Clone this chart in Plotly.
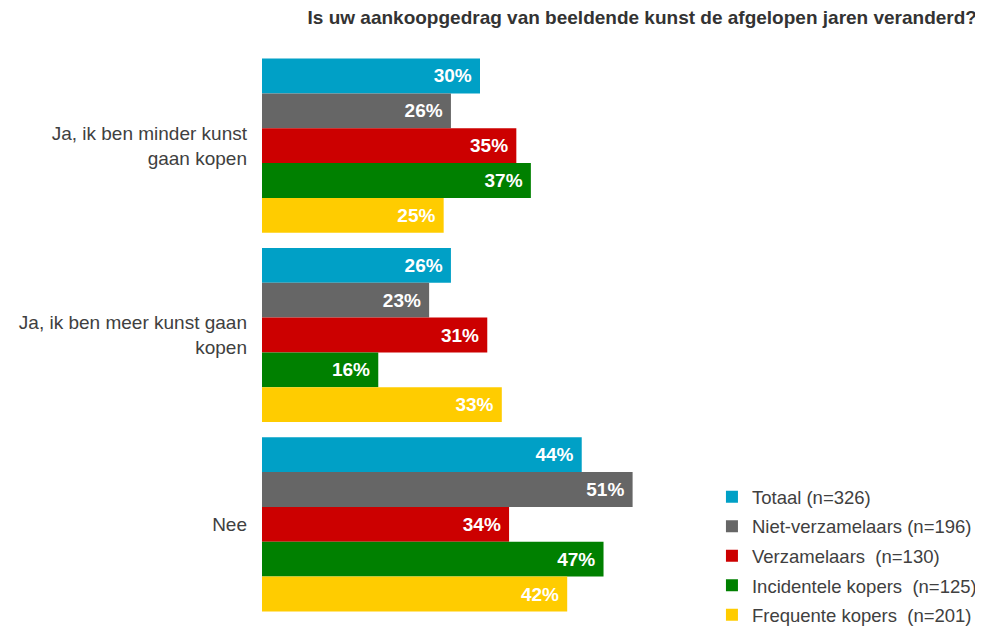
import plotly.graph_objects as go

# Categories and series (share of respondents)
categories = [
    "Ja, ik ben minder kunst<br>gaan kopen",
    "Ja, ik ben meer kunst gaan<br>kopen",
    "Nee",
]
series_names = [
    "Totaal (n=326)",
    "Niet-verzamelaars (n=196)",
    "Verzamelaars  (n=130)",
    "Incidentele kopers  (n=125)",
    "Frequente kopers  (n=201)",
]
totaal = [0.30, 0.26, 0.44]
niet_verzamelaars = [0.26, 0.23, 0.51]
verzamelaars = [0.35, 0.31, 0.34]
incidentele = [0.37, 0.16, 0.47]
frequente = [0.25, 0.33, 0.42]

colors = ["#00A0C6", "#666666", "#CC0000", "#008000", "#FFCC00"]
values = [totaal, niet_verzamelaars, verzamelaars, incidentele, frequente]

fig = go.Figure()
for i, (name, vals) in enumerate(zip(series_names, values)):
    fig.add_trace(go.Bar(
        y=categories,
        x=vals,
        name=name,
        orientation="h",
        marker=dict(color=colors[i], line=dict(width=0)),
        text=[f"{v:.0%}\u00a0" for v in vals],
        textposition="inside",
        insidetextanchor="end",
        textfont=dict(color="white", size=19, family="Liberation Sans, Arial", weight="bold"),
        legendgroup=f"g{i}",
    ))

# page body has an 8px margin, so the figure is a bit smaller than the window
fig.update_layout(
    width=975,
    height=619,
    barmode="group",
    bargap=0.08,
    bargroupgap=0,
    plot_bgcolor="white",
    paper_bgcolor="white",
    font=dict(family="Liberation Sans, Arial", size=19, color="#404040"),
    margin=dict(l=254, r=285, t=43, b=8, autoexpand=False),
    title=dict(
        text="<b>Is uw aankoopgedrag van beeldende kunst de afgelopen jaren veranderd?</b>",
        x=0.9938, xanchor="right", y=0.995, yanchor="top",
        font=dict(size=19, color="#333333"),
    ),
    xaxis=dict(range=[0, 0.6], visible=False),
    yaxis=dict(autorange="reversed", showline=False, showgrid=False, ticks="",
               automargin=False, ticklabelstandoff=14,
               tickfont=dict(size=19, color="#404040")),
    legend=dict(
        x=1.032, xanchor="left", y=0.248, yanchor="top",
        traceorder="grouped", tracegroupgap=2.5,
        font=dict(size=18.5, color="#404040"),
        itemwidth=30,
    ),
)

fig.write_html("out.html")
